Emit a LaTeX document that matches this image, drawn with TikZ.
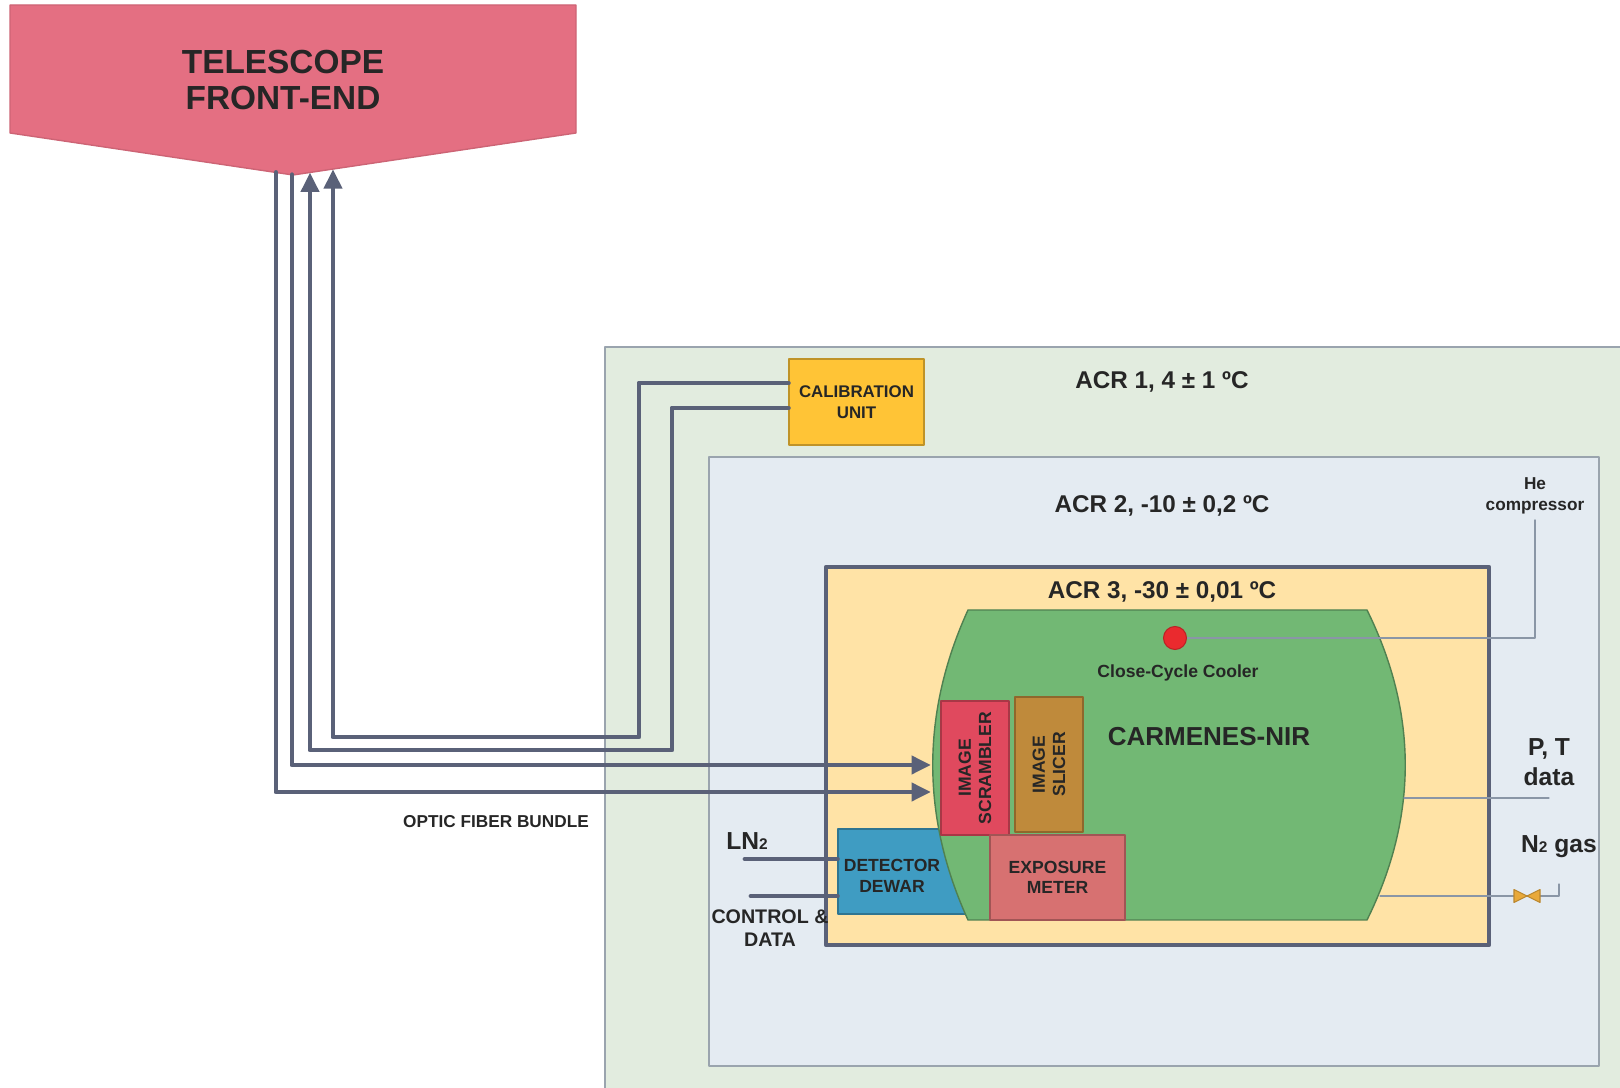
\documentclass[tikz,border=0pt]{standalone}
\usepackage{fontspec}
\setmainfont{Liberation Sans}
\setsansfont{Liberation Sans}
\usetikzlibrary{arrows.meta}
\definecolor{ink}{HTML}{262626}
\definecolor{fibergray}{HTML}{5A6178}
\definecolor{linegray}{HTML}{8A96A6}
\definecolor{roomgray}{HTML}{9AA4AE}
\definecolor{telred}{HTML}{E46F82}
\definecolor{acrone}{HTML}{E2ECDF}
\definecolor{acrtwo}{HTML}{E4EBF2}
\definecolor{acrthree}{HTML}{FFE3A6}
\definecolor{nirgreen}{HTML}{72B874}
\definecolor{calgold}{HTML}{FFC436}
\definecolor{scrred}{HTML}{E0495E}
\definecolor{slcbrown}{HTML}{BF8A3B}
\definecolor{exppink}{HTML}{D77171}
\definecolor{dewblue}{HTML}{3F9CC2}
\definecolor{dotred}{HTML}{EA2A2E}
\definecolor{valvegold}{HTML}{E9A93A}

\begin{document}
\begin{tikzpicture}[x=0.1mm,y=-0.1mm,font=\sffamily\bfseries,text=ink,>=Latex,line cap=round,line join=round,
  txt/.style 2 args={font=\fontsize{#1}{#2}\selectfont\bfseries,align=center,inner sep=0.5mm},
  box/.style={draw=#1!75!black,fill=#1,line width=0.4pt,inner sep=0pt,align=center,
    font=\fontsize{5}{5.8}\selectfont\bfseries},
  roomline/.style={draw=roomgray,line width=0.5pt},
  fibre/.style={draw=fibergray,line width=1.4pt},
  feed/.style={fibre,-{Triangle[length=5.5pt,width=5pt]}},
  thin line/.style={draw=linegray,line width=0.35pt}]
  \useasboundingbox (0,0) rectangle (1620,1088);

  % climate rooms, nested
  \fill[acrone] (605,347) rectangle (1620,1088);
  \draw[roomline] (1620,347) -- (605,347) -- (605,1088);
  \draw[roomline,fill=acrtwo] (709,457) rectangle (1599,1066);
  \draw[fibergray,line width=1.3pt,fill=acrthree] (826,567) rectangle (1489,945);
  \node[txt={6.9}{8}] (acr1) at (1162,382) {ACR 1, 4 ± 1 ºC};
  \node[txt={6.9}{8}] (acr2) at (1162,506) {ACR 2, -10 ± 0,2 ºC};
  \node[txt={6.9}{8}] (acr3) at (1162,592) {ACR 3, -30 ± 0,01 ºC};

  \filldraw[fill=telred,draw=telred!90!black,line width=0.4pt]
    (10,5) -- (576,5) -- (576,133) -- (293,175) -- (10,133) -- cycle;
  \node[txt={9.5}{10.5}] (tel) at (283,80) {TELESCOPE\\FRONT-END};

  \node[box=calgold,minimum width=13.5mm,minimum height=8.6mm,
    font=\fontsize{4.8}{6}\selectfont\bfseries] (cal) at (856.5,402) {CALIBRATION\\UNIT};

  % the dewar sits partly under the spectrograph body
  \node[box=dewblue,minimum width=14mm,minimum height=8.5mm] (dew) at (908,871.5) {};
  \filldraw[fill=nirgreen,draw=nirgreen!70!black,line width=0.4pt]
    (968,610) -- (1367,610) .. controls (1418,713) and (1418,817) .. (1367,920)
    -- (968,920) .. controls (921,817) and (921,713) .. (968,610) -- cycle;
  \node[box=scrred,rotate=90,minimum width=13.4mm,minimum height=6.8mm] (scr) at (975,768) {IMAGE\\SCRAMBLER};
  \node[box=slcbrown,rotate=90,minimum width=13.5mm,minimum height=6.8mm] (slc) at (1049,764.5) {IMAGE\\SLICER};
  \node[box=exppink,minimum width=13.5mm,minimum height=8.5mm] (exp) at (1057.5,877.5) {EXPOSURE\\METER};
  \node[txt={5}{5.8}] (dewl) at (892,876) {DETECTOR\\DEWAR};
  \node[txt={7.4}{8}] (nir) at (1209,737) {CARMENES-NIR};

  \node[txt={4.9}{6}] (he) at (1535,496) {He\\compressor};
  \draw[thin line] (1175,638) -| (he.south);
  \node[circle,fill=dotred,draw=dotred!80!black,line width=0.3pt,inner sep=0pt,minimum size=2.3mm] (ccc) at (1175,638) {};
  \node[txt={5}{6}] (cccl) at (1178,673) {Close-Cycle Cooler};

  \node[txt={7}{8.5}] (pt) at (1549,762) {P, T\\data};
  \coordinate (ptl) at (1404,798);
  \draw[thin line] (ptl) -- (ptl -| pt.south);

  \node[txt={7}{8}] (ntwo) at (1559,847) {N{\fontsize{4.4}{5}\selectfont 2} gas};
  \coordinate (n2l) at (1380,896);
  \coordinate (n2e) at (1559,884);
  \coordinate (valve) at (1527,896);
  \draw[thin line] (n2l) -| (n2e);
  \filldraw[fill=valvegold,draw=valvegold!80!black,line width=0.3pt,shift={(valve)}]
    (-13,-6.5) -- (13,6.5) -- (13,-6.5) -- (-13,6.5) -- cycle;

  \node[txt={7}{8}] (lnt) at (747,841) {LN{\fontsize{4.4}{5}\selectfont 2}};
  \node[txt={5.6}{6.6}] (ctl) at (770,928) {CONTROL \&\\DATA};
  \coordinate (lnin) at (745,859);
  \coordinate (ctlin) at (751,896);
  \draw[fibre] (lnin) -- (lnin -| dew.west);
  \draw[fibre] (ctlin) -- (ctlin -| dew.west);

  % fibre bundle: two feeds to the scrambler, two returns from calibration
  \coordinate (fA) at (276,172.5);
  \coordinate (fB) at (292,174.8);
  \coordinate (fC) at (310,172.5);
  \coordinate (fD) at (333,169.2);
  \coordinate (inA) at (931,792);
  \coordinate (inB) at (931,765);
  \coordinate (bendC) at (672,750);
  \coordinate (bendD) at (639,737);
  \draw[feed] (fA) |- (inA);
  \draw[feed] (fB) |- (inB);
  \draw[feed] ([yshift=-0.6mm]cal.west) -| (bendC) -| (fC);
  \draw[feed] ([yshift=1.9mm]cal.west) -| (bendD) -| (fD);
  \node[txt={4.9}{6}] (ofb) at (496,822) {OPTIC FIBER BUNDLE};
\end{tikzpicture}
\end{document}
